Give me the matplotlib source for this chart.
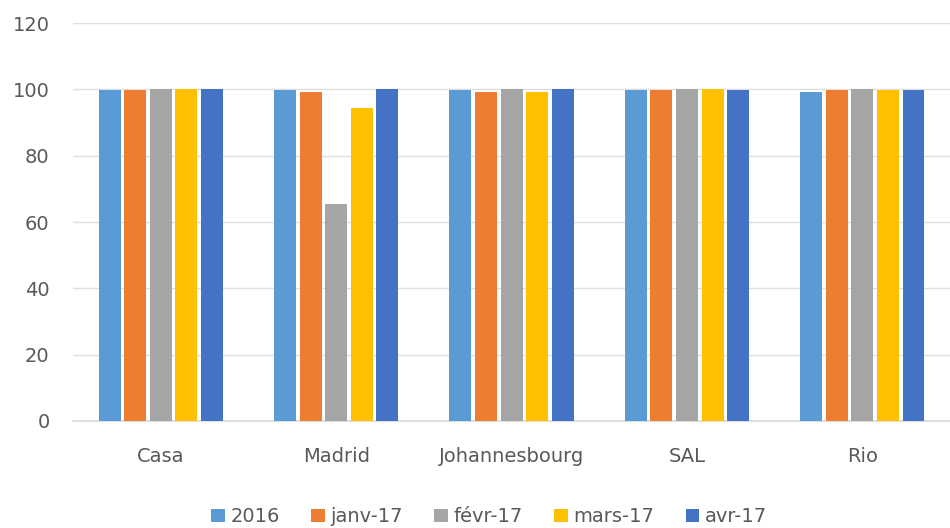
import numpy as np
import matplotlib
matplotlib.use("Agg")
import matplotlib.pyplot as plt

categories = ["Casa", "Madrid", "Johannesbourg", "SAL", "Rio"]
series_names = ["2016", "janv-17", "févr-17", "mars-17", "avr-17"]
v_2016 = [99.7, 99.7, 99.7, 99.7, 99.2]
v_janv17 = [99.7, 99.2, 99.2, 99.7, 99.7]
v_fevr17 = [100, 65.4, 100, 100, 100]
v_mars17 = [100, 94.3, 99.2, 100, 99.7]
v_avr17 = [100, 100, 100, 99.7, 99.7]
yticks = [0, 20, 40, 60, 80, 100, 120]

colors = ["#5B9BD5", "#ED7D31", "#A5A5A5", "#FFC000", "#4472C4"]
series = [v_2016, v_janv17, v_fevr17, v_mars17, v_avr17]

fig = plt.figure(figsize=(9.5, 5.28), dpi=100)
ax = fig.add_axes([0.077, 0.203, 0.923, 0.753])

x = np.arange(len(categories))
step = 0.146
width = 0.125
for i, (vals, name, c) in enumerate(zip(series, series_names, colors)):
    ax.bar(x + (i - 2) * step, vals, width=width, color=c, label=name, zorder=3)

ax.set_xlim(-0.5, len(categories) - 0.5)
ax.set_ylim(0, 120)
ax.set_yticks(yticks)
ax.grid(axis="y", color="#e0e0e0", linewidth=1.0, zorder=0)
for s in ["top", "right", "left"]:
    ax.spines[s].set_visible(False)
ax.spines["bottom"].set_color("#d9d9d9")
ax.spines["bottom"].set_linewidth(1.2)
ax.tick_params(axis="both", length=0, labelsize=14, labelcolor="#595959")
ax.tick_params(axis="x", pad=19)
ax.tick_params(axis="y", pad=17)
ax.set_xticks(x)
ax.set_xticklabels(categories)

fig.legend(loc="lower center", bbox_to_anchor=(0.515, -0.03), ncol=5, frameon=False,
           fontsize=14, labelcolor="#595959", handlelength=0.7, handleheight=0.7,
           handletextpad=0.3, columnspacing=1.6)

fig.savefig("out.png", dpi=100)
